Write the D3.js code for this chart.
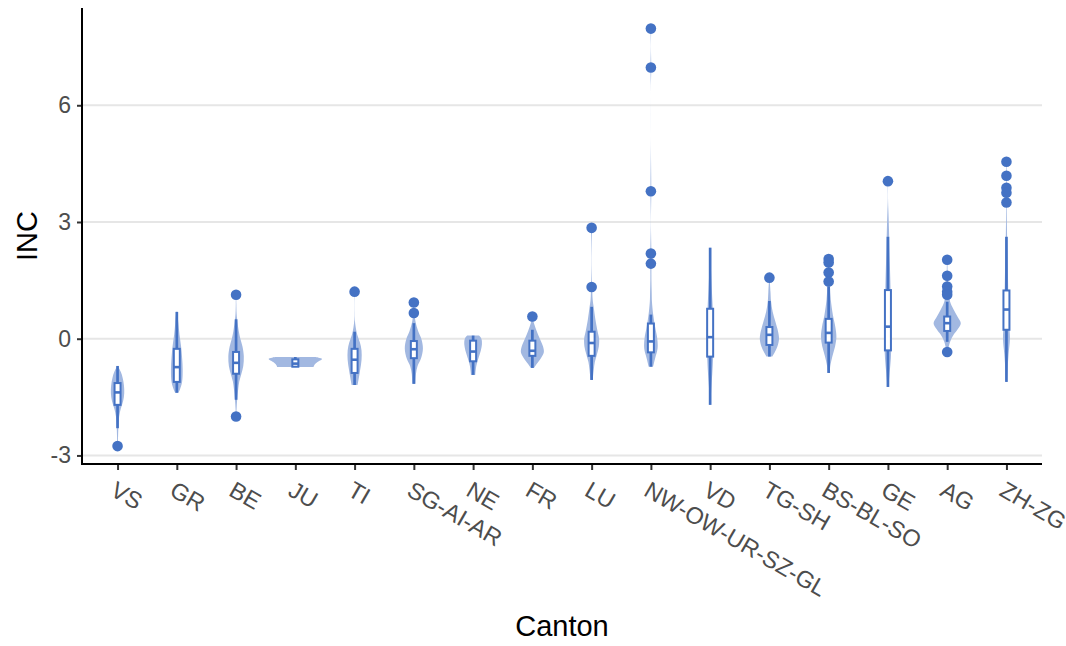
<!DOCTYPE html>
<html>
<head>
<meta charset="utf-8">
<script src="https://cdn.jsdelivr.net/npm/d3@7"></script>
<style>
  html, body { margin: 0; padding: 0; background: #ffffff; }
  svg { display: block; font-family: "Liberation Sans", Arial, sans-serif; }
</style>
</head>
<body>
<svg id="chart" width="1066" height="646"></svg>
<script>
// Cantons in plotting order
const cantons = ["VS", "GR", "BE", "JU", "TI", "SG-AI-AR", "NE", "FR", "LU",
  "NW-OW-UR-SZ-GL", "VD", "TG-SH", "BS-BL-SO", "GE", "AG", "ZH-ZG"];

// Box-plot summaries of INC per canton
const whiskerLow  = [-2.30, -1.39, -1.57, -0.72, -1.19, -1.16, -0.93, -0.75, -1.06, -0.72, -1.70, -0.46, -0.88, -1.24, -0.08, -1.11];
const q1          = [-1.70, -1.11, -0.90, -0.72, -0.88, -0.50, -0.58, -0.44, -0.44, -0.35, -0.46, -0.16, -0.10, -0.30,  0.20,  0.23];
const medians     = [-1.38, -0.73, -0.62, -0.64, -0.54, -0.27, -0.33, -0.31, -0.11, -0.07,  0.04,  0.10,  0.15,  0.31,  0.40,  0.75];
const q3          = [-1.14, -0.26, -0.34, -0.53, -0.26, -0.06, -0.05, -0.05,  0.18,  0.39,  0.77,  0.30,  0.51,  1.25,  0.57,  1.24];
const whiskerHigh = [-0.70,  0.69,  0.50, -0.47,  0.18,  0.40,  0.08,  0.23,  0.82,  0.62,  2.34,  0.97,  1.34,  2.62,  0.95,  2.62];

// Outlying observations per canton
const outliers = [
  [-2.76],
  [],
  [1.13, -2.00],
  [],
  [1.21],
  [0.93, 0.66],
  [],
  [0.57],
  [2.85, 1.33],
  [7.97, 6.97, 3.79, 2.19, 1.93],
  [],
  [1.57],
  [2.05, 1.96, 1.70, 1.47],
  [4.05],
  [2.03, 1.62, 1.34, 1.21, 1.13, -0.34],
  [4.55, 4.19, 3.88, 3.75, 3.50]
];

// Violin outlines: INC values and relative density (1 = widest violin)
const violinValues = [
  [-0.70, -0.85, -1.0, -1.2, -1.4, -1.6, -1.8, -2.0, -2.3, -2.5, -2.76],
  [0.69, 0.4, 0.1, -0.2, -0.5, -0.8, -1.1, -1.3, -1.39],
  [1.13, 0.9, 0.65, 0.5, 0.2, 0, -0.2, -0.45, -0.7, -0.9, -1.1, -1.3, -1.57, -1.8, -2.0],
  [-0.47, -0.52, -0.60, -0.68, -0.73],
  [1.21, 1.0, 0.7, 0.48, 0.3, 0.1, -0.1, -0.3, -0.55, -0.8, -1.0, -1.19],
  [0.93, 0.66, 0.45, 0.2, 0, -0.25, -0.5, -0.7, -0.9, -1.16],
  [0.08, 0.0, -0.15, -0.3, -0.5, -0.7, -0.93],
  [0.57, 0.4, 0.2, 0, -0.2, -0.35, -0.5, -0.65, -0.75],
  [2.85, 2.5, 2.0, 1.6, 1.33, 1.0, 0.8, 0.5, 0.2, 0, -0.2, -0.4, -0.6, -0.8, -1.06],
  [7.97, 7.5, 6.97, 6.5, 5.0, 3.79, 3.0, 2.19, 1.93, 1.5, 1.2, 0.95, 0.6, 0.3, 0, -0.25, -0.5, -0.72],
  [2.34, 1.8, 1.3, 0.9, 0.5, 0, -0.5, -0.9, -1.3, -1.7],
  [1.57, 1.2, 0.97, 0.7, 0.45, 0.2, 0, -0.2, -0.35, -0.46],
  [2.05, 1.7, 1.34, 1.0, 0.6, 0.3, 0.05, -0.2, -0.45, -0.7, -0.88],
  [4.05, 3.6, 3.24, 2.8, 2.2, 1.5, 0.8, 0, -0.5, -0.9, -1.24],
  [2.03, 1.6, 1.2, 0.95, 0.75, 0.55, 0.4, 0.25, 0.1, -0.08, -0.34],
  [4.55, 4.0, 3.5, 2.8, 2.2, 1.5, 0.8, 0.3, 0, -0.4, -0.8, -1.11]
];
const violinDensity = [
  [0.01, 0.12, 0.19, 0.24, 0.25, 0.21, 0.12, 0.06, 0.03, 0.02, 0.01],
  [0.02, 0.06, 0.10, 0.16, 0.20, 0.22, 0.20, 0.12, 0.06],
  [0.01, 0.01, 0.02, 0.04, 0.10, 0.16, 0.24, 0.29, 0.27, 0.20, 0.12, 0.08, 0.04, 0.02, 0.01],
  [0.75, 1.00, 0.83, 0.71, 0.68],
  [0.01, 0.004, 0.004, 0.01, 0.04, 0.10, 0.20, 0.26, 0.26, 0.21, 0.16, 0.11],
  [0.01, 0.02, 0.06, 0.16, 0.28, 0.34, 0.27, 0.14, 0.08, 0.06],
  [0.22, 0.31, 0.33, 0.29, 0.20, 0.12, 0.08],
  [0.01, 0.06, 0.16, 0.28, 0.40, 0.43, 0.32, 0.16, 0.06],
  [0.02, 0.01, 0.004, 0.01, 0.02, 0.04, 0.08, 0.14, 0.22, 0.28, 0.27, 0.20, 0.12, 0.08, 0.04],
  [0.015, 0.002, 0.015, 0.002, 0.001, 0.015, 0.002, 0.02, 0.02, 0.02, 0.03, 0.04, 0.09, 0.16, 0.24, 0.25, 0.16, 0.08],
  [0.01, 0.03, 0.06, 0.09, 0.11, 0.13, 0.11, 0.08, 0.04, 0.02],
  [0.01, 0.04, 0.06, 0.12, 0.22, 0.32, 0.36, 0.30, 0.20, 0.11],
  [0.02, 0.03, 0.05, 0.08, 0.16, 0.25, 0.29, 0.24, 0.14, 0.06, 0.04],
  [0.01, 0.004, 0.02, 0.04, 0.06, 0.09, 0.11, 0.13, 0.11, 0.06, 0.02],
  [0.01, 0.02, 0.06, 0.11, 0.24, 0.40, 0.51, 0.40, 0.24, 0.11, 0.02],
  [0.01, 0.01, 0.01, 0.02, 0.04, 0.06, 0.08, 0.11, 0.13, 0.08, 0.04, 0.02]
];

const yTicks = [-3, 0, 3, 6];

const blue = "#4472c4";
const violinFill = "#a2b8e1";

const svg = d3.select("#chart");
const panel = { left: 82, right: 1042, top: 8, bottom: 464 };

const x = d3.scalePoint().domain(cantons).range([panel.left, panel.right]).padding(0.6);
const y = d3.scaleLinear().domain([-3.22, 8.5]).range([panel.bottom, panel.top]);
const halfWidth = d3.scaleLinear().domain([0, 1]).range([0, x.step() * 0.45]);

// Horizontal grid lines
svg.append("g")
  .selectAll("line")
  .data(yTicks)
  .join("line")
  .attr("x1", panel.left).attr("x2", panel.right)
  .attr("y1", d => y(d)).attr("y2", d => y(d))
  .attr("stroke", "#e6e6e6").attr("stroke-width", 2);

const groups = svg.append("g")
  .selectAll("g")
  .data(cantons.map((c, i) => ({ c, i })))
  .join("g")
  .attr("transform", d => `translate(${x(d.c)},0)`);

// Violins
groups.append("path")
  .attr("d", d => {
    const pts = violinValues[d.i].map((v, k) => [v, violinDensity[d.i][k]]);
    return d3.area()
      .y(p => y(p[0]))
      .x0(p => -halfWidth(p[1]))
      .x1(p => halfWidth(p[1]))
      .curve(d3.curveCatmullRom)(pts);
  })
  .attr("fill", violinFill)
  .attr("stroke", "none");

// Whiskers
groups.append("line")
  .attr("x1", 0).attr("x2", 0)
  .attr("y1", d => y(whiskerHigh[d.i])).attr("y2", d => y(q3[d.i]))
  .attr("stroke", blue).attr("stroke-width", 2.7);
groups.append("line")
  .attr("x1", 0).attr("x2", 0)
  .attr("y1", d => y(q1[d.i])).attr("y2", d => y(whiskerLow[d.i]))
  .attr("stroke", blue).attr("stroke-width", 2.7);

// Boxes
groups.append("rect")
  .attr("x", -3).attr("width", 6)
  .attr("y", d => y(q3[d.i]))
  .attr("height", d => Math.max(0.5, y(q1[d.i]) - y(q3[d.i])))
  .attr("fill", "#ffffff")
  .attr("stroke", blue).attr("stroke-width", 2);
groups.append("line")
  .attr("x1", -3).attr("x2", 3)
  .attr("y1", d => y(medians[d.i])).attr("y2", d => y(medians[d.i]))
  .attr("stroke", blue).attr("stroke-width", 2.6);

// Outliers
groups.selectAll("circle")
  .data(d => outliers[d.i])
  .join("circle")
  .attr("cx", 0)
  .attr("cy", v => y(v))
  .attr("r", 5.3)
  .attr("fill", blue);

// Axes
const yAxis = svg.append("g")
  .attr("transform", `translate(${panel.left},0)`)
  .call(d3.axisLeft(y).tickValues(yTicks).tickFormat(d => String(d)).tickSize(5).tickPadding(6));
const xAxis = svg.append("g")
  .attr("transform", `translate(0,${panel.bottom})`)
  .call(d3.axisBottom(x).tickSize(6).tickFormat(""));

[yAxis, xAxis].forEach(a => {
  a.select(".domain").remove();
  a.selectAll(".tick line").attr("stroke", "#333333").attr("stroke-width", 2);
});
yAxis.selectAll(".tick text")
  .attr("fill", "#4d4d4d")
  .style("font-size", "23px");

// Axis lines
svg.append("line")
  .attr("x1", panel.left).attr("x2", panel.left)
  .attr("y1", panel.top).attr("y2", panel.bottom + 1)
  .attr("stroke", "#000").attr("stroke-width", 2);
svg.append("line")
  .attr("x1", panel.left - 1).attr("x2", panel.right)
  .attr("y1", panel.bottom).attr("y2", panel.bottom)
  .attr("stroke", "#000").attr("stroke-width", 2);

// Rotated category labels
svg.append("g")
  .selectAll("g")
  .data(cantons)
  .join("g")
  .attr("transform", d => `translate(${x(d)},480) rotate(30)`)
  .append("text")
  .attr("dy", "0.72em")
  .attr("fill", "#4d4d4d")
  .style("font-size", "23.5px")
  .text(d => d);

// Axis titles
svg.append("text")
  .attr("x", (panel.left + panel.right) / 2)
  .attr("y", 636)
  .attr("text-anchor", "middle")
  .style("font-size", "29px")
  .attr("fill", "#000")
  .text("Canton");
svg.append("text")
  .attr("transform", `translate(37,${(panel.top + panel.bottom) / 2}) rotate(-90)`)
  .attr("text-anchor", "middle")
  .style("font-size", "29px")
  .attr("fill", "#000")
  .text("INC");
</script>
</body>
</html>
